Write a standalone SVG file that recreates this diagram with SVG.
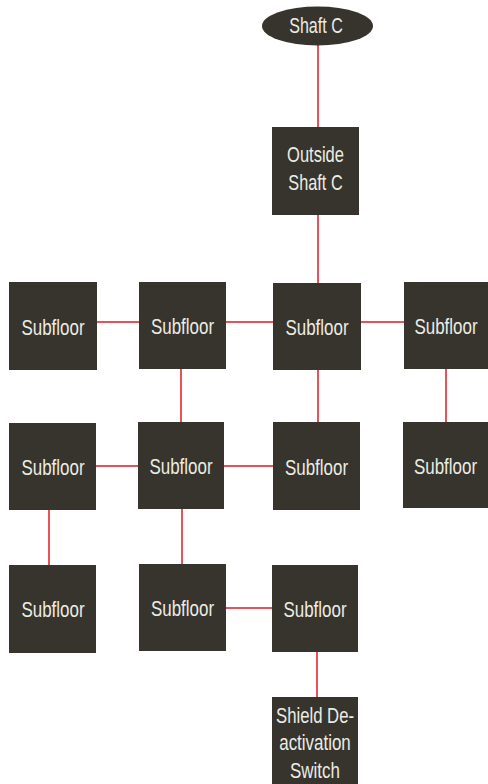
<svg xmlns="http://www.w3.org/2000/svg" width="488" height="784" viewBox="0 0 488 784">
<style>
.n{fill:#36342c}
.t{fill:#ecece4;font-family:"Liberation Sans",Arial,sans-serif;font-size:22px;text-anchor:middle}
.c line{stroke:#e8505a;stroke-width:2}
</style>
<rect width="488" height="784" fill="#fff"/>
<g class="c">
<line x1="318" y1="44" x2="318" y2="128"/>
<line x1="318" y1="214" x2="318" y2="284"/>
<line x1="96" y1="322" x2="140" y2="322"/>
<line x1="225" y1="322" x2="274" y2="322"/>
<line x1="360" y1="322" x2="404" y2="322"/>
<line x1="181" y1="368" x2="181" y2="423"/>
<line x1="318" y1="369" x2="318" y2="423"/>
<line x1="446" y1="368" x2="446" y2="423"/>
<line x1="95" y1="466" x2="139" y2="466"/>
<line x1="223" y1="466" x2="274" y2="466"/>
<line x1="49" y1="509" x2="49" y2="566"/>
<line x1="182" y1="508" x2="182" y2="565"/>
<line x1="225" y1="608" x2="272" y2="608"/>
<line x1="317" y1="651" x2="317" y2="698"/>
</g>
<g id="shaftC"><ellipse class="n" cx="317.5" cy="26" rx="55.5" ry="19.5"/><text class="t" transform="translate(316 33) scale(0.73 1)">Shaft C</text></g>
<g id="outside"><rect class="n" x="272" y="127" width="87" height="88"/><text class="t" transform="translate(315.5 162) scale(0.75 1)">Outside</text><text class="t" transform="translate(315.5 190) scale(0.74 1)">Shaft C</text></g>
<g id="r1c1"><rect class="n" x="9" y="282" width="88" height="88"/><text class="t" transform="translate(53 335) scale(0.77 1)">Subfloor</text></g>
<g id="r1c2"><rect class="n" x="139" y="282" width="87" height="87"/><text class="t" transform="translate(182.5 334) scale(0.77 1)">Subfloor</text></g>
<g id="r1c3"><rect class="n" x="273" y="283" width="88" height="87"/><text class="t" transform="translate(317 335) scale(0.77 1)">Subfloor</text></g>
<g id="r1c4"><rect class="n" x="404" y="282" width="84" height="87"/><text class="t" transform="translate(446 334) scale(0.77 1)">Subfloor</text></g>
<g id="r2c1"><rect class="n" x="9" y="423" width="87" height="87"/><text class="t" transform="translate(53 475) scale(0.77 1)">Subfloor</text></g>
<g id="r2c2"><rect class="n" x="138" y="422" width="86" height="87"/><text class="t" transform="translate(181 474) scale(0.77 1)">Subfloor</text></g>
<g id="r2c3"><rect class="n" x="273" y="422" width="87" height="88"/><text class="t" transform="translate(316.5 475) scale(0.77 1)">Subfloor</text></g>
<g id="r2c4"><rect class="n" x="403" y="422" width="85" height="86"/><text class="t" transform="translate(445.5 474) scale(0.77 1)">Subfloor</text></g>
<g id="r3c1"><rect class="n" x="9" y="565" width="87" height="88"/><text class="t" transform="translate(53 617) scale(0.77 1)">Subfloor</text></g>
<g id="r3c2"><rect class="n" x="139" y="564" width="87" height="87"/><text class="t" transform="translate(182.5 616) scale(0.77 1)">Subfloor</text></g>
<g id="r3c3"><rect class="n" x="272" y="565" width="86" height="87"/><text class="t" transform="translate(315 617) scale(0.77 1)">Subfloor</text></g>
<g id="shield"><rect class="n" x="272" y="697" width="86" height="87"/><text class="t" transform="translate(315 723) scale(0.76 1)">Shield De-</text><text class="t" transform="translate(315 750) scale(0.77 1)">activation</text><text class="t" transform="translate(315 778) scale(0.77 1)">Switch</text></g>
</svg>
